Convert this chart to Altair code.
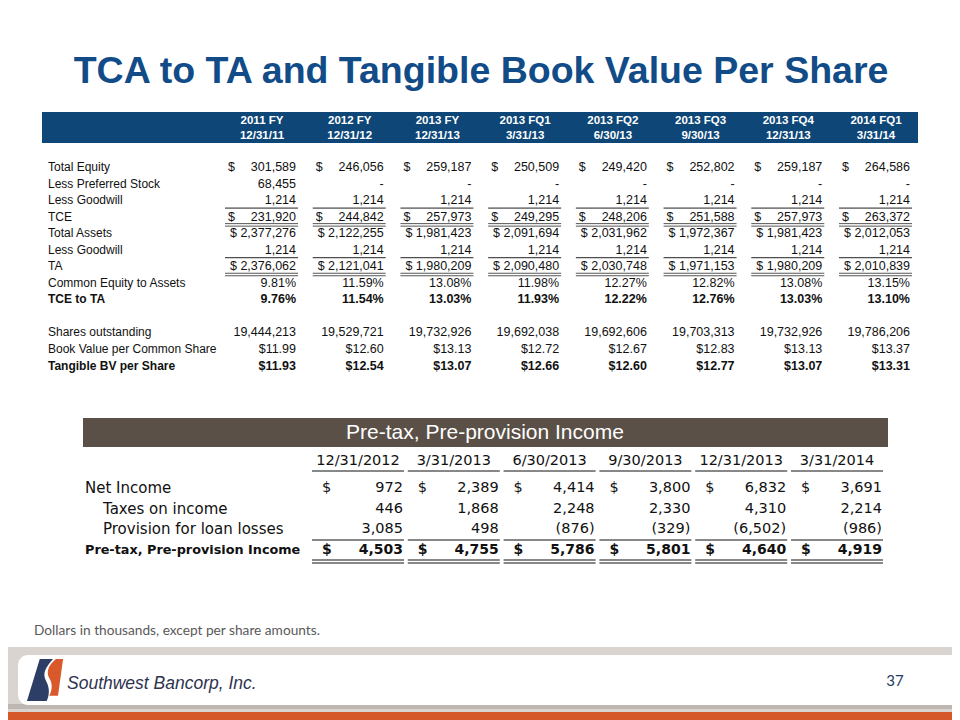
import altair as alt
import pandas as pd

# ---------------- data ----------------
title_text = "TCA to TA and Tangible Book Value Per Share"

top_periods = ["2011 FY", "2012 FY", "2013 FY", "2013 FQ1", "2013 FQ2", "2013 FQ3", "2013 FQ4", "2014 FQ1"]
top_dates = ["12/31/11", "12/31/12", "12/31/13", "3/31/13", "6/30/13", "9/30/13", "12/31/13", "3/31/14"]

total_equity = [301589, 246056, 259187, 250509, 249420, 252802, 259187, 264586]
preferred_stock = [68455, 0, 0, 0, 0, 0, 0, 0]
goodwill = [1214, 1214, 1214, 1214, 1214, 1214, 1214, 1214]
tce = [231920, 244842, 257973, 249295, 248206, 251588, 257973, 263372]
total_assets = [2377276, 2122255, 1981423, 2091694, 2031962, 1972367, 1981423, 2012053]
ta = [2376062, 2121041, 1980209, 2090480, 2030748, 1971153, 1980209, 2010839]
common_equity_to_assets = [9.81, 11.59, 13.08, 11.98, 12.27, 12.82, 13.08, 13.15]
tce_to_ta = [9.76, 11.54, 13.03, 11.93, 12.22, 12.76, 13.03, 13.10]
shares_outstanding = [19444213, 19529721, 19732926, 19692038, 19692606, 19703313, 19732926, 19786206]
book_value_per_share = [11.99, 12.60, 13.13, 12.72, 12.67, 12.83, 13.13, 13.37]
tangible_bv_per_share = [11.93, 12.54, 13.07, 12.66, 12.60, 12.77, 13.07, 13.31]

bottom_title = "Pre-tax, Pre-provision Income"
bottom_dates = ["12/31/2012", "3/31/2013", "6/30/2013", "9/30/2013", "12/31/2013", "3/31/2014"]
net_income = [972, 2389, 4414, 3800, 6832, 3691]
taxes_on_income = [446, 1868, 2248, 2330, 4310, 2214]
provision_for_loan_losses = [3085, 498, -876, -329, -6502, -986]
pretax_preprovision_income = [4503, 4755, 5786, 5801, 4640, 4919]

footnote = "Dollars in thousands, except per share amounts."
company = "Southwest Bancorp, Inc."
page_number = "37"

# ---------------- helpers ----------------
M = 8  # page margin
ARIAL = "Liberation Sans, Arial, sans-serif"
VERD = "DejaVu Sans, Verdana, sans-serif"
NAVY = "#0D4677"
TITLE_BLUE = "#114C88"
BROWN = "#5B5047"
TOP_FS = 12
TOP_NUM_FS = 12.5

one = pd.DataFrame({"k": [0]})


def X(v):
    return alt.value(v - M)


def Y(v):
    return alt.value(v - M)


def box(x1, x2, y1, y2, color, **kw):
    return alt.Chart(one).mark_rect(color=color, **kw).encode(x=X(x1), x2=X(x2), y=Y(y1), y2=Y(y2))


def label(text, x, y, **kw):
    return alt.Chart(pd.DataFrame({"t": [text]})).mark_text(baseline="middle", **kw).encode(
        x=X(x), y=Y(y), text="t:N")


layers = []

# ---------------- title ----------------
layers.append(label(title_text, 481, 72, font=ARIAL, fontSize=37.5, fontWeight="bold",
                    color=TITLE_BLUE, align="center"))

# ---------------- top table ----------------
top_x = alt.Scale(domain=[0, 7], range=[296 - M, 910 - M])
top_y = alt.Scale(domain=[0, 12], range=[167 - M, 365.5 - M])

top_rows = [
    ("Total Equity", total_equity, "dollar", False, None),
    ("Less Preferred Stock", preferred_stock, "dash", False, None),
    ("Less Goodwill", goodwill, "int", False, "single"),
    ("TCE", tce, "dollar", False, "double"),
    ("Total Assets", total_assets, "dollar_inline", False, None),
    ("Less Goodwill", goodwill, "int", False, "single"),
    ("TA", ta, "dollar_inline", False, "double"),
    ("Common Equity to Assets", common_equity_to_assets, "pct", False, None),
    ("TCE  to TA", tce_to_ta, "pct", True, None),
    None,
    ("Shares outstanding", shares_outstanding, "int", False, None),
    ("Book Value per Common Share", book_value_per_share, "money", False, None),
    ("Tangible  BV per Share", tangible_bv_per_share, "money", True, None),
]


def fmt_top(kind, v):
    if kind == "dash":
        return "-\u00a0\u00a0" if v == 0 else f"{v:,}"
    if kind == "dollar_inline":
        return f"$ {v:,}"
    if kind == "pct":
        return f"{v:.2f}%"
    if kind == "money":
        return f"${v:.2f}"
    return f"{v:,}"


cells, labels = [], []
for r, spec in enumerate(top_rows):
    if spec is None:
        continue
    name, vals, kind, bold, rule = spec
    labels.append({"row": r, "label": name, "bold": bold})
    for c, v in enumerate(vals):
        cells.append({"row": r, "col": c, "text": fmt_top(kind, v), "dollar": kind == "dollar",
                      "bold": bold, "rule": rule or ""})
cells_df = pd.DataFrame(cells)
labels_df = pd.DataFrame(labels)
head_df = pd.DataFrame({"col": list(range(8)), "period": top_periods, "date": top_dates})

layers.append(box(42, 918, 112, 143, NAVY))
tx = alt.X("col:Q", scale=top_x, axis=None)
ty = alt.Y("row:Q", scale=top_y, axis=None)
layers.append(alt.Chart(head_df).mark_text(font=ARIAL, fontSize=11.5, fontWeight="bold", color="white",
                                            align="center", baseline="middle", dx=-34).encode(
    x=tx, y=Y(121), text="period:N"))
layers.append(alt.Chart(head_df).mark_text(font=ARIAL, fontSize=11.5, fontWeight="bold", color="white",
                                            align="center", baseline="middle", dx=-34).encode(
    x=tx, y=Y(136), text="date:N"))

for b in (False, True):
    layers.append(alt.Chart(labels_df).transform_filter(
        "datum.bold" if b else "!datum.bold").mark_text(
        font=ARIAL, fontSize=TOP_FS, fontWeight="bold" if b else "normal", color="#111",
        align="left", baseline="middle").encode(x=X(48), y=ty, text="label:N"))
    layers.append(alt.Chart(cells_df).transform_filter(
        "datum.bold" if b else "!datum.bold").mark_text(
        font=ARIAL, fontSize=TOP_NUM_FS, fontWeight="bold" if b else "normal", color="#111",
        align="right", baseline="middle").encode(x=tx, y=ty, text="text:N"))

layers.append(alt.Chart(cells_df).transform_filter("datum.dollar").mark_text(
    font=ARIAL, fontSize=TOP_NUM_FS, color="#111", align="left", baseline="middle", dx=-68, text="$").encode(
    x=tx, y=ty))

layers.append(alt.Chart(cells_df).transform_filter("datum.rule == 'single'").mark_rule(
    color="#222", strokeWidth=1, xOffset=-71, x2Offset=2, yOffset=8).encode(
    x=tx, x2=alt.X2("col:Q"), y=ty))
for off in (7, 9.5):
    layers.append(alt.Chart(cells_df).transform_filter("datum.rule == 'double'").mark_rule(
        color="#555", strokeWidth=1, xOffset=-71, x2Offset=2, yOffset=off).encode(
        x=tx, x2=alt.X2("col:Q"), y=ty))

# ---------------- bottom table ----------------
bot_x = alt.Scale(domain=[0, 5], range=[398 - M, 877 - M])
bot_y = alt.Scale(domain=[0, 3], range=[488 - M, 550 - M])
bx = alt.X("col:Q", scale=bot_x, axis=None)
by = alt.Y("row:Q", scale=bot_y, axis=None)

bottom_rows = [
    ("Net Income", net_income, False, True, False),
    ("Taxes on income", taxes_on_income, False, False, True),
    ("Provision for loan losses", provision_for_loan_losses, False, False, True),
    ("Pre-tax, Pre-provision Income", pretax_preprovision_income, True, True, False),
]


def fmt_bot(v):
    return f"({-v:,})" if v < 0 else f"{v:,}\u00a0"


bcells, blabels = [], []
for r, (name, vals, bold, dollar, indent) in enumerate(bottom_rows):
    blabels.append({"row": r, "label": name, "bold": bold, "indent": indent})
    for c, v in enumerate(vals):
        bcells.append({"row": r, "col": c, "text": fmt_bot(v), "bold": bold, "dollar": dollar})
bcells_df = pd.DataFrame(bcells)
blabels_df = pd.DataFrame(blabels)
bhead_df = pd.DataFrame({"col": list(range(6)), "date": bottom_dates})

layers.append(box(83, 888, 418, 447, BROWN))
layers.append(label(bottom_title, 485, 433, font=ARIAL, fontSize=21, color="white", align="center"))

layers.append(alt.Chart(bhead_df).mark_text(font=VERD, fontSize=14.5, color="#111", align="center",
                                             baseline="middle", dx=-40).encode(
    x=bx, y=Y(461), text="date:N"))
layers.append(alt.Chart(bhead_df).mark_rule(color="#111", strokeWidth=1, xOffset=-86, x2Offset=6).encode(
    x=bx, x2=alt.X2("col:Q"), y=Y(471)))

for b in (False, True):
    for ind in (False, True):
        sub = blabels_df[(blabels_df.bold == b) & (blabels_df.indent == ind)]
        if len(sub) == 0:
            continue
        layers.append(alt.Chart(blabels_df).transform_filter(
            f"datum.bold == {str(b).lower()} && datum.indent == {str(ind).lower()}").mark_text(
            font=VERD, fontSize=12.8 if b else 15, fontWeight="bold" if b else "normal", color="#111",
            align="left", baseline="middle").encode(x=X(103 if ind else 85), y=by, text="label:N"))
    layers.append(alt.Chart(bcells_df).transform_filter(
        "datum.bold" if b else "!datum.bold").mark_text(
        font=VERD, fontSize=14 if b else 14.5, fontWeight="bold" if b else "normal", color="#111",
        align="right", baseline="middle", dx=5).encode(x=bx, y=by, text="text:N"))
    layers.append(alt.Chart(bcells_df).transform_filter(
        "datum.dollar && " + ("datum.bold" if b else "!datum.bold")).mark_text(
        font=VERD, fontSize=14 if b else 14.5, fontWeight="bold" if b else "normal", color="#111",
        align="left", baseline="middle", dx=-76, text="$").encode(x=bx, y=by))

layers.append(alt.Chart(bhead_df).mark_rule(color="#111", strokeWidth=1, xOffset=-86, x2Offset=6).encode(
    x=bx, x2=alt.X2("col:Q"), y=Y(540)))
for yy in (560, 563):
    layers.append(alt.Chart(bhead_df).mark_rule(color="#111", strokeWidth=1, xOffset=-86, x2Offset=6).encode(
        x=bx, x2=alt.X2("col:Q"), y=Y(yy)))

# ---------------- footnote & footer ----------------
layers.append(label(footnote, 34, 631, font="Lato, Open Sans, sans-serif", fontSize=13.7, color="#595959",
                    align="left"))
layers.append(box(0, 970, 647, 712, "#DAD4D0"))
layers.append(box(0, 970, 704, 709, "#BEB6B1"))
layers.append(box(18, 990, 655, 705, "white", cornerRadius=10))
layers.append(box(0, 970, 712, 730, "#D5582B"))

navy_path = "M -0.25 -1 L 0.38 -1 C 0.05 -0.6, -0.15 -0.35, 0.05 0.05 C 0.25 0.4, 0.2 0.75, 0.08 1 L -0.86 1 Z"
orange_path = "M 0.52 -1 L 0.86 -1 L 0.62 0.75 L 0.2 0.75 C 0.36 0.45, 0.36 0.15, 0.2 -0.1 C 0.05 -0.35, 0.15 -0.7, 0.52 -1 Z"
layers.append(alt.Chart(one).mark_point(shape=navy_path, filled=True, size=1764, color="#2C3E66",
                                         opacity=1).encode(x=X(45), y=Y(680)))
layers.append(alt.Chart(one).mark_point(shape=orange_path, filled=True, size=1764, color="#D9592A",
                                         opacity=1).encode(x=X(45), y=Y(680)))
layers.append(label(company, 67, 684, font=ARIAL, fontSize=17.5, fontStyle="italic", color="#2E3350",
                    align="left"))
layers.append(label(page_number, 895, 681, font="Lato, Open Sans, sans-serif", fontSize=15,
                    color="#243B5E", align="center"))

chart = alt.layer(*layers).resolve_scale(x="independent", y="independent").properties(
    width=944, height=712, autosize=alt.AutoSizeParams(type="none"), padding=0,
    background="white").configure_view(stroke=None)

chart.save("out.html", embed_options={"renderer": "svg", "actions": False})
